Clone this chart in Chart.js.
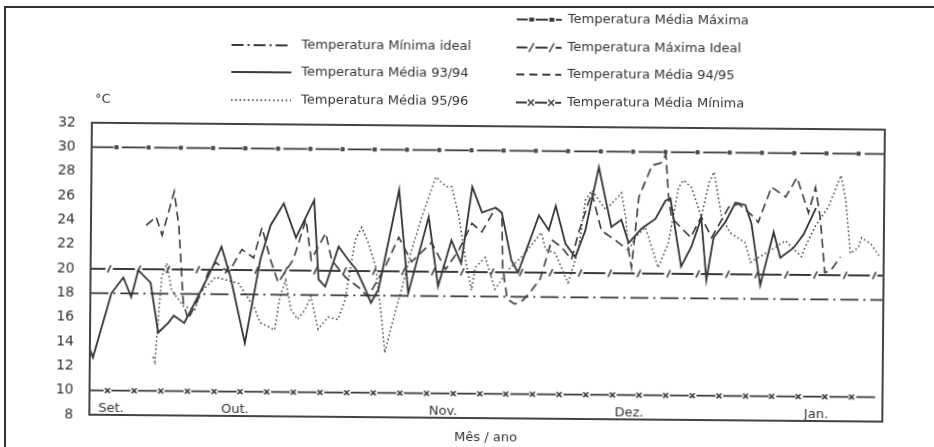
<!DOCTYPE html>
<html><head><meta charset="utf-8">
<script src="https://cdn.jsdelivr.net/npm/chart.js@4"></script>
<style>
html,body{margin:0;padding:0;background:#fff;overflow:hidden;width:934px;height:447px;position:relative}
#wrap{position:absolute;left:0;top:0;width:934px;height:447px;transform:rotate(0.5deg);transform-origin:50% 50%}
#frame{position:absolute;left:4px;top:6px;width:960px;height:470px;border-left:2px solid #333;border-top:2px solid #333;pointer-events:none}
canvas{display:block}
</style></head><body>
<div id="wrap"><canvas id="c" width="934" height="447"></canvas></div>
<div id="frame"></div>
<script>
// ---- DATA ----
const monthLabels = ['Set.', 'Out.', 'Nov.', 'Dez.', 'Jan.'];
const monthDays = [3.5, 23.5, 57.1, 87.1, 117.3];

const days9394 = [0,0.5,3.4,5.3,6.6,7.7,9.7,11.0,12.6,13.5,15.2,17.4,19.5,21.1,22.6,25.0,27.4,29.0,31.1,33.1,36.0,36.8,37.9,40.0,41.6,42.9,44.4,45.3,46.5,49.7,51.3,54.5,56.1,58.2,59.8,61.5,63.1,65.3,66.3,67.9,69.0,72.3,73.9,75.0,76.6,78.2,79.8,81.9,84.0,85.6,86.8,88.9,91.1,92.7,93.5,95.3,96.9,98.5,99.4,100.5,102.4,104.0,105.6,106.6,108.1,110.2,111.3,113.4,115.0,117.0];
const temp9394 = [13.4,12.7,18.0,19.3,17.7,19.9,18.9,14.8,15.6,16.2,15.6,17.8,20.0,21.9,19.4,14.0,20.9,23.7,25.5,22.7,25.8,19.3,18.7,22.0,20.9,20.1,18.5,17.4,18.5,26.7,18.2,24.5,18.8,22.6,20.7,27.0,24.9,25.3,24.9,21.0,20.0,24.7,23.5,25.5,22.4,21.3,23.5,28.7,23.8,24.4,22.5,23.7,24.5,26.0,26.2,20.6,22.2,24.6,19.5,23.0,24.3,25.9,25.7,24.2,19.1,23.5,21.4,22.2,23.3,25.5];

const days9495 = [8.9,10.5,11.5,13.4,14.2,15.0,15.8,17.9,19.0,20.2,22.3,24.4,26.3,27.6,29.0,30.3,32.7,34.7,35.6,37.9,38.9,41.1,43.2,44.8,47.3,49.7,51.8,55.0,57.3,59.4,61.5,63.1,65.3,66.3,66.5,67.3,68.5,69.8,71.3,72.6,74.4,76.0,77.6,78.7,80.8,82.4,84.7,86.8,87.3,88.4,90.5,91.9,92.7,93.2,93.7,96.8,98.5,100.2,102.9,104.5,106.6,107.7,109.8,112.1,113.9,115.8,116.9,117.7,118.5,119.5,121.0];
const temp9495 = [23.6,24.3,22.8,26.4,23.5,17.3,15.9,18.1,19.8,20.6,19.8,21.7,21.0,23.5,20.9,19.0,20.9,24.2,20.9,23.1,20.9,19.5,18.7,17.9,20.1,22.8,20.8,22.4,20.2,21.8,24.0,23.3,25.3,24.9,20.4,17.8,17.4,17.7,18.6,19.5,22.7,22.1,21.1,23.3,26.6,23.5,22.7,21.9,20.5,26.3,28.9,29.1,29.8,26.3,24.6,23.0,24.7,23.0,25.5,25.8,24.9,24.3,27.2,26.4,28.0,25.1,27.2,24.7,20.2,20.4,21.5];

const days9596 = [10.2,10.5,11.5,12.3,13.1,15.0,16.9,17.7,20.2,23.9,26.6,27.4,29.8,30.6,31.5,32.4,33.5,34.7,35.6,36.8,38.4,40.0,41.1,42.7,43.7,44.8,46.0,46.9,47.6,48.5,50.2,51.8,53.4,55.6,57.3,58.2,59.4,60.5,61.5,62.1,63.7,65.3,67.4,69.8,72.7,73.4,75.0,76.6,77.1,78.7,79.8,80.8,83.1,85.6,86.3,86.8,87.9,89.5,91.6,93.2,94.8,95.6,96.9,98.5,99.7,100.5,101.8,103.2,105.6,106.5,109.4,112.1,114.7,115.3,116.9,119.0,121.0,121.8,122.6,123.9,124.4,125.9,127.4];
const temp9596 = [12.8,12.4,19.4,20.5,18.3,17.0,16.7,18.1,19.4,18.9,16.8,15.7,15.1,17.8,19.2,16.8,16.0,16.8,17.9,15.2,16.2,16.0,17.6,22.6,23.6,22.3,20.4,16.8,13.3,15.2,18.5,21.8,24.5,27.8,27.0,27.0,24.5,21.0,18.5,20.4,21.2,18.6,20.2,21.4,23.3,21.9,21.6,19.7,19.2,21.9,26.0,26.8,25.2,26.6,24.6,21.9,23.0,23.8,20.5,22.5,27.1,27.7,27.1,24.7,27.5,28.4,24.7,23.4,22.6,21.0,21.9,22.8,21.5,22.3,24.0,25.6,28.2,26.2,21.8,22.3,23.1,22.6,21.5];

const minIdealDays = [0, 128];
const minIdealTemp = [18, 18];
const maxIdealDays = [0,3.0,7.8,12.5,17.3,22.0,26.8,31.5,36.3,41.0,45.8,50.5,55.3,60.0,64.8,69.5,74.3,79.0,83.8,88.5,93.3,98.0,102.8,107.5,112.3,117.0,121.8,126.5,128];
const maxIdealTemp = [20,20,20,20,20,20,20,20,20,20,20,20,20,20,20,20,20,20,20,20,20,20,20,20,20,20,20,20,20];
const medMaxDays = [0,4.0,9.2,14.4,19.6,24.8,30.1,35.3,40.5,45.7,50.9,56.1,61.3,66.5,71.7,76.9,82.2,87.4,92.6,97.8,103.0,108.2,113.4,118.6,123.8,128];
const medMaxTemp = [30,30,30,30,30,30,30,30,30,30,30,30,30,30,30,30,30,30,30,30,30,30,30,30,30,30];
const medMinDays = [0,2.9,7.2,11.5,15.8,20.1,24.3,28.6,32.9,37.2,41.5,45.8,50.1,54.4,58.7,63.0,67.2,71.5,75.8,80.1,84.4,88.7,93.0,97.3,101.6,105.9,110.1,114.4,118.7,123.0,128];
const medMinTemp = [10,10,10,10,10,10,10,10,10,10,10,10,10,10,10,10,10,10,10,10,10,10,10,10,10,10,10,10,10,10,10];

// ---- BUILD ----
const FONT = "'DejaVu Sans', sans-serif";
const INK = '#3a3a3a';
const pts = (xs, ys) => xs.map((x, i) => ({x, y: ys[i]}));
const innerOnly = r => ctx => (ctx.dataIndex === 0 || ctx.dataIndex === ctx.dataset.data.length - 1) ? 0 : r;

const datasets = [
  {label:'Temperatura Mínima ideal', data: pts(minIdealDays, minIdealTemp), borderColor: INK, borderWidth: 1.8, borderDash:[18,5,2,5], pointRadius:0},
  {label:'Temperatura Máxima Ideal', data: pts(maxIdealDays, maxIdealTemp), borderColor: INK, borderWidth: 1.8, borderDash:[22,7.4], borderDashOffset:7.1,
    pointStyle:'line', rotation:-65, pointRadius: innerOnly(4), pointBorderWidth:1.5, pointBorderColor: INK, pointBackgroundColor: INK},
  {label:'Temperatura Média Máxima', data: pts(medMaxDays, medMaxTemp), borderColor: INK, borderWidth: 1.8, borderDash:[24,8.3], borderDashOffset:2.15,
    pointStyle:'rect', pointRadius: innerOnly(2.2), pointBorderWidth:1, pointBorderColor: INK, pointBackgroundColor: '#555'},
  {label:'Temperatura Média Mínima', data: pts(medMinDays, medMinTemp), borderColor: INK, borderWidth: 1.8, borderDash:[19,7.6], borderDashOffset:4.8,
    pointStyle:'crossRot', pointRadius: innerOnly(3.5), pointBorderWidth:1.6, pointBorderColor: INK},
  {label:'Temperatura Média 95/96', data: pts(days9596, temp9596), borderColor: '#444', borderWidth: 1.5, borderDash:[1.6,2.6], pointRadius:0},
  {label:'Temperatura Média 94/95', data: pts(days9495, temp9495), borderColor: INK, borderWidth: 1.6, borderDash:[9,5], pointRadius:0},
  {label:'Temperatura Média 93/94', data: pts(days9394, temp9394), borderColor: '#333', borderWidth: 1.8, pointRadius:0}
];

function sample(ctx, kind, x0, x1, y) {
  ctx.save();
  ctx.strokeStyle = INK; ctx.fillStyle = INK; ctx.lineWidth = 1.8;
  const line = dash => { ctx.setLineDash(dash); ctx.beginPath(); ctx.moveTo(x0, y); ctx.lineTo(x1, y); ctx.stroke(); ctx.setLineDash([]); };
  if (kind === 'dashdot') line([12,4,2,4]);
  else if (kind === 'solid') line([]);
  else if (kind === 'dotted') { ctx.lineWidth = 1.4; line([1.6,2.6]); }
  else if (kind === 'dashed') line([8,5]);
  else {
    line([]);
    const xs = [x0 + (x1 - x0) * 0.33, x0 + (x1 - x0) * 0.78];
    xs.forEach(x => {
      ctx.fillStyle = '#fff'; ctx.fillRect(x - 4, y - 5, 8, 10); ctx.fillStyle = INK;
      ctx.beginPath();
      if (kind === 'slash') { ctx.moveTo(x - 2.5, y + 4.5); ctx.lineTo(x + 2.5, y - 4.5); ctx.lineWidth = 1.5; ctx.stroke(); }
      else if (kind === 'cross') { ctx.lineWidth = 1.5; ctx.moveTo(x-3,y-3); ctx.lineTo(x+3,y+3); ctx.moveTo(x+3,y-3); ctx.lineTo(x-3,y+3); ctx.stroke(); }
      else if (kind === 'rect') { ctx.fillRect(x - 2.5, y - 2, 5, 4); }
    });
  }
  ctx.restore();
}

const decor = {
  id: 'decor',
  afterDraw(chart) {
    const ctx = chart.ctx, a = chart.chartArea;
    ctx.save();
    ctx.strokeStyle = '#444'; ctx.lineWidth = 2;
    ctx.strokeRect(a.left, a.top, a.right - a.left, a.bottom - a.top);
    ctx.fillStyle = '#333'; ctx.font = "13px " + FONT; ctx.textBaseline = 'middle'; ctx.textAlign = 'left';
    ctx.fillText('°C', 94, 103);
    const left = [
      ['dashdot', 'Temperatura Mínima ideal', 47],
      ['solid', 'Temperatura Média 93/94', 74],
      ['dotted', 'Temperatura Média 95/96', 102]
    ];
    const right = [
      ['rect', 'Temperatura Média Máxima', 19],
      ['slash', 'Temperatura Máxima Ideal', 47],
      ['dashed', 'Temperatura Média 94/95', 74],
      ['cross', 'Temperatura Média Mínima', 102]
    ];
    ctx.font = "13px " + FONT;
    left.forEach(([k, t, y]) => { sample(ctx, k, 230, 290, y); ctx.fillStyle = '#333'; ctx.fillText(t, 300, y); });
    right.forEach(([k, t, y]) => { sample(ctx, k, 515, 560, y); ctx.fillStyle = '#333'; ctx.fillText(t, 566, y); });
    ctx.restore();
  }
};

new Chart(document.getElementById('c'), {
  type: 'line',
  data: { datasets },
  options: {
    responsive: false, animation: false, devicePixelRatio: 1,
    layout: { padding: { top: 126, right: 50, left: 0, bottom: 0 } },
    plugins: { legend: { display: false }, tooltip: { enabled: false } },
    elements: { line: { tension: 0, fill: false } },
    scales: {
      x: {
        type: 'linear', min: 0, max: 128, position: 'bottom',
        grid: { display: false, drawTicks: false }, border: { display: false },
        afterBuildTicks: s => { s.ticks = monthDays.map(v => ({ value: v })); },
        ticks: { autoSkip: false, maxRotation: 0, minRotation: 0, mirror: true, padding: -1, color: '#333', font: { size: 13, family: FONT },
          callback: (v, i) => monthLabels[i] },
        title: { display: true, text: 'Mês / ano', color: '#333', font: { size: 13, family: FONT }, padding: { top: 0, bottom: 2 } },
        afterFit: s => { s.height = 29; }
      },
      y: {
        min: 8, max: 32,
        grid: { display: false, drawTicks: false }, border: { display: false },
        ticks: { stepSize: 2, padding: 16, color: '#333', font: { size: 14, family: FONT } },
        afterFit: s => { s.width = 91; }
      }
    }
  },
  plugins: [decor]
});
</script>
</body></html>
